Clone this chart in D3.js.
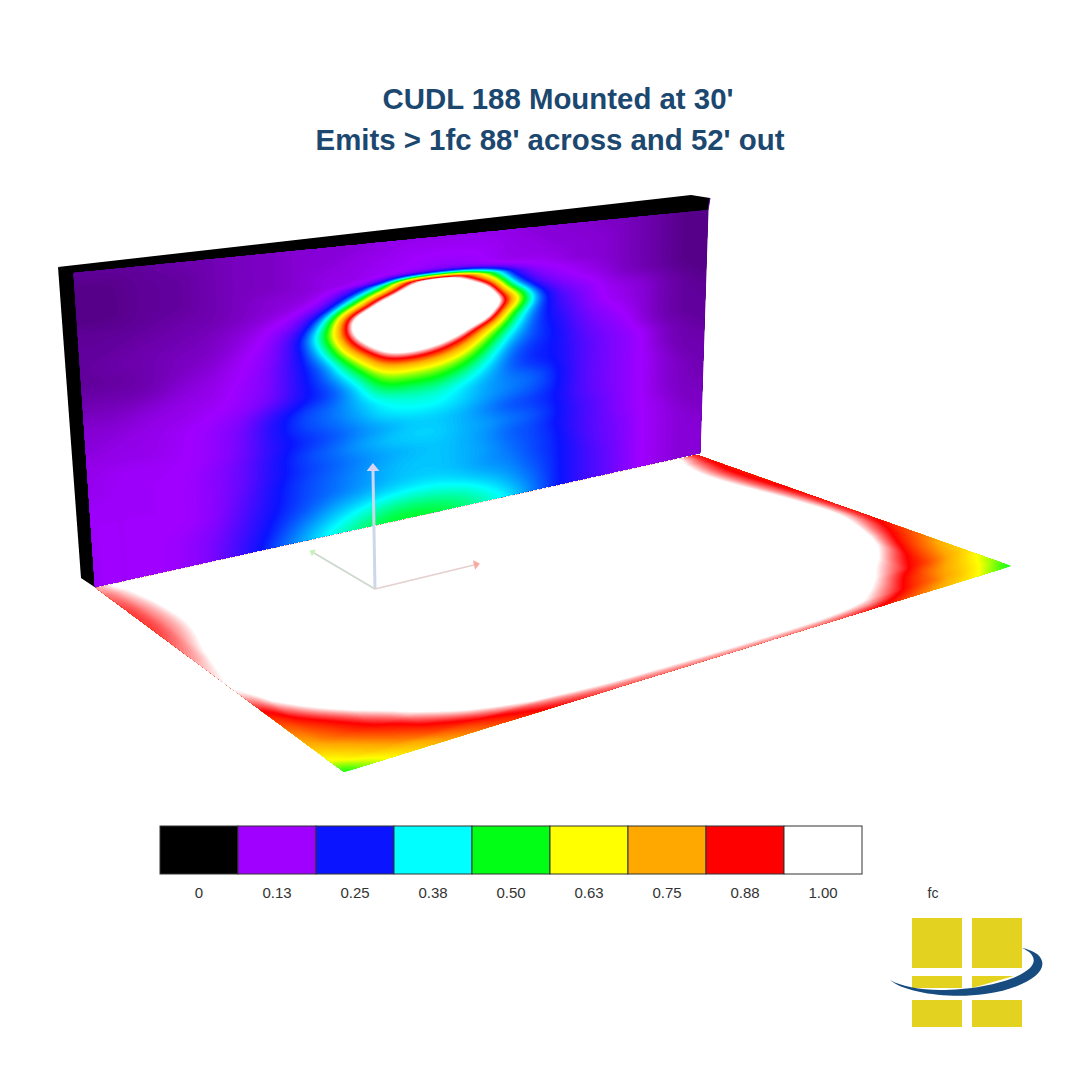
<!DOCTYPE html>
<html>
<head>
<meta charset="utf-8">
<script src="https://cdn.jsdelivr.net/npm/d3@7"></script>
<style>
  html, body { margin: 0; padding: 0; background: #fff; }
  text { font-family: "Liberation Sans", Arial, sans-serif; }
</style>
</head>
<body>
<div id="canvas"></div>
<script>
var titleLines = ["CUDL 188 Mounted at 30'", "Emits > 1fc 88' across and 52' out"];

// legend
var legendValues = [0, 0.13, 0.25, 0.38, 0.50, 0.63, 0.75, 0.88, 1.00];
var legendLabels = ["0", "0.13", "0.25", "0.38", "0.50", "0.63", "0.75", "0.88", "1.00"];
var legendColors = ["#000000", "#a000ff", "#0a14ff", "#00ffff", "#00ff14", "#ffff00", "#ffa800", "#ff0000", "#ffffff"];
var unitLabel = "fc";

// wall readings in hundredths of a fc, left to right, top to bottom
var wallDown = [0, .05, .1, .125, .15, .2, .25, .3, .35, .4, .45, .5, .55, .6, .65, .7, .75, .8, .85, .9, .95, 1];
var wallRows = [
  [ 8, 8, 8, 9, 9,10,10,11,11,11,12,12,12,12,12,12,11,11,11,10,10, 9, 8, 7, 7],
  [ 7, 7, 8, 8, 9,10,10,11,11,12,12,13,13,13,13,12,12,11,11,11,10, 9, 8, 7, 7],
  [ 7, 7, 8, 8, 9,10,10,11,12,12,13,13,14,14,13,12,12,12,11,11,10, 9, 8, 7, 7],
  [ 7, 7, 8, 8, 9,10,10,11,12,12,13,15,18,18,15,13,13,12,11,11,10, 9, 8, 7, 7],
  [ 7, 7, 8, 8, 9,10,11,11,12,14,28,100,120,105,55,22,14,13,12,11,10, 9, 8, 7, 7],
  [ 8, 8, 8, 9, 9,10,11,12,15,45,110,130,135,135,120,40,20,15,13,12,10, 9, 8, 7, 7],
  [ 8, 8, 9, 9,10,11,13,16,40,115,135,140,140,140,135,90,35,20,16,13,12,11, 9, 8, 7],
  [ 8, 9, 9,10,10,12,14,24,52,112,130,135,140,135,118,52,30,22,17,13,12,11, 9, 8, 8],
  [ 8, 8, 9,10,11,13,15,24,42,88,118,125,120,105,68,42,28,24,18,15,13,11, 9, 8, 8],
  [ 9, 9, 9,11,12,13,16,24,32,58,92,98,92,75,52,34,28,25,19,16,14,11, 9, 8, 8],
  [10,10,11,12,12,14,16,24,30,42,64,66,64,56,42,30,26,25,20,17,15,13,10, 9, 8],
  [11,11,12,12,13,14,17,24,27,35,50,50,50,44,36,29,26,25,20,17,15,13,10, 9, 9],
  [11,12,12,13,14,16,23,28,30,34,39,41,41,37,33,31,30,26,20,17,15,13,11, 9, 9],
  [12,12,12,13,14,17,24,28,30,33,37,38,38,36,33,31,29,26,20,17,15,13,11,10, 9],
  [12,13,13,13,14,17,23,26,28,31,33,35,35,34,31,28,27,25,20,17,15,13,11,10, 9],
  [12,13,13,13,15,18,24,28,30,33,35,36,36,34,33,31,29,26,21,18,15,13,11,10,10],
  [13,13,13,13,15,18,24,27,29,31,33,34,35,34,32,29,28,25,21,18,15,13,12,10,10],
  [13,13,13,13,15,19,25,28,30,32,34,35,35,34,33,30,28,26,21,18,16,13,12,11,10],
  [13,13,13,13,15,20,25,28,30,32,34,35,35,34,32,31,28,26,22,18,16,13,12,11,11],
  [13,13,13,14,16,21,26,29,33,35,37,38,38,36,34,32,29,26,22,19,16,13,12,11,11],
  [13,13,13,14,17,22,27,32,36,40,44,45,44,42,38,34,30,26,22,19,16,13,12,11,11],
  [13,13,13,14,17,23,29,34,40,45,49,50,49,46,42,37,31,26,22,19,16,13,12,11,11]
];

// floor readings in hundredths of a fc, the grid is tighter near the edges
var floorAcross = [0, .02, .05, .08, .12, .18, .25, .35, .5, .65, .75, .82, .88, .92, .95, .98, 1];
var floorOut = [0, .05, .15, .3, .45, .55, .62, .7, .76, .82, .88, .92, .96, .98, 1];
var floorRows = [
  [96,100,110,120,120,120,120,120,120,120,120,120,120,115,105,95,88],
  [93,97,105,120,120,120,120,120,120,120,120,120,120,108,100,92,88],
  [90,94,102,115,120,120,120,120,120,120,120,120,120,103,96,88,86],
  [90,93,100,110,120,120,120,120,120,120,120,120,120,110,100,90,87],
  [95,100,112,120,120,120,120,120,120,120,120,120,120,120,108,95,88],
  [98,104,120,120,120,120,120,120,120,120,120,120,120,120,110,96,88],
  [100,108,120,120,120,120,120,120,120,120,120,120,120,118,102,93,88],
  [88,98,112,120,120,120,120,120,120,120,120,120,120,106,94,86,83],
  [84,89,100,112,120,120,120,120,120,120,120,120,110,97,87,82,79],
  [78,83,88,96,110,120,120,120,120,120,120,112,96,88,82,76,72],
  [74,78,84,87,93,115,120,120,120,120,120,100,89,84,78,72,68],
  [68,72,78,83,88,100,120,120,120,125,110,94,82,76,72,65,61],
  [60,65,72,77,82,88,96,110,110,110,100,88,79,73,67,60,56],
  [55,60,67,72,78,85,92,98,102,102,97,84,76,70,64,57,53],
  [50,55,63,68,75,81,88,92,93,93,88,80,72,66,60,53,50]
];

// corners of the two surfaces on screen: tl, tr, br, bl
var wallQuad = [[73.5, 273], [708, 210], [700, 453], [95, 587]];
var floorQuad = [[96, 588], [697, 455], [1011, 566], [344, 772]];

var svg = d3.select('#canvas').append('svg')
  .attr('width', 1080)
  .attr('height', 1080)
  .style('display', 'block');

var color = d3.scaleLinear().domain(legendValues).range(legendColors).clamp(true);

// unit square to quad
var quadProjection = function(q) {
  var dx1 = q[1][0] - q[2][0], dx2 = q[3][0] - q[2][0], sx = q[0][0] - q[1][0] + q[2][0] - q[3][0];
  var dy1 = q[1][1] - q[2][1], dy2 = q[3][1] - q[2][1], sy = q[0][1] - q[1][1] + q[2][1] - q[3][1];
  var den = dx1 * dy2 - dx2 * dy1;
  var g = (sx * dy2 - dx2 * sy) / den;
  var h = (dx1 * sy - sx * dy1) / den;
  var a = q[1][0] - q[0][0] + g * q[1][0], b = q[3][0] - q[0][0] + h * q[3][0];
  var d = q[1][1] - q[0][1] + g * q[1][1], e = q[3][1] - q[0][1] + h * q[3][1];
  return function(u, v) {
    var w = 1 + g * u + h * v;
    return [(a * u + b * v + q[0][0]) / w, (d * u + e * v + q[0][1]) / w];
  };
};

var line = d3.line();

// shade a surface like the renderer did: resample the readings, then stack filled contours
var drawField = function(rows, us, vs, quad, factor, blur, step) {
  var ny = rows.length, nx = rows[0].length;
  var W = (nx - 1) * factor + 1, H = (ny - 1) * factor + 1;
  var data = new Float64Array(W * H);
  for (var y = 0; y < H; y++) {
    var j = Math.min(Math.floor(y / factor), ny - 2), fy = y / factor - j;
    for (var x = 0; x < W; x++) {
      var i = Math.min(Math.floor(x / factor), nx - 2), fx = x / factor - i;
      data[y * W + x] = ((1 - fy) * ((1 - fx) * rows[j][i] + fx * rows[j][i + 1]) +
        fy * ((1 - fx) * rows[j + 1][i] + fx * rows[j + 1][i + 1])) / 100;
    }
  }
  d3.blur2({data: data, width: W, height: H}, blur);

  var uScale = d3.scaleLinear().domain(us.map(function(d, i) { return i * factor; })).range(us).clamp(true);
  var vScale = d3.scaleLinear().domain(vs.map(function(d, i) { return i * factor; })).range(vs).clamp(true);
  var project = quadProjection(quad);
  var path = d3.geoPath(d3.geoTransform({
    point: function(px, py) {
      var p = project(uScale(px - 0.5), vScale(py - 0.5));
      this.stream.point(p[0], p[1]);
    }
  }));

  var low = Math.floor(d3.min(data) * 100) / 100;
  var levels = d3.range(low, 1.001, step);
  var contours = d3.contours().size([W, H]).thresholds(levels)(data);
  svg.append('g').selectAll('path').data(contours).enter().append('path')
    .attr('d', path)
    .attr('fill', function(d) { return color(d.value); });
};

var uniform = function(n) {
  return d3.range(n).map(function(i) { return i / (n - 1); });
};

// floor
drawField(floorRows, floorAcross, floorOut, floorQuad, 6, 2, 0.005);

// wall body
svg.append('path')
  .attr('d', line([[58, 267], [691, 195], [710, 198], [708, 211], [73.5, 274]]) + 'Z')
  .attr('fill', '#000');
svg.append('path')
  .attr('d', line([[58, 267], [74, 273], [96, 588], [81, 578]]) + 'Z')
  .attr('fill', '#000');
svg.append('path')
  .attr('d', line([[710, 198], [708, 210], [700, 453]]))
  .attr('fill', 'none').attr('stroke', '#5a0090').attr('stroke-width', 1);

// wall face
drawField(wallRows, uniform(wallRows[0].length), wallDown, wallQuad, 6, 1.5, 0.0025);

// axis triad
var triad = [
  {to: [373, 471], line: '#cdd6ea', head: '#d9d2f2', w: 3, size: 8},
  {to: [314, 553], line: '#cdd9cd', head: '#c4f2b4', w: 1.8, size: 5},
  {to: [474, 565], line: '#e6cfcf', head: '#f6aaa2', w: 1.8, size: 6}
];
var origin = [375, 589];
svg.append('g').selectAll('line').data(triad).enter().append('line')
  .attr('x1', origin[0]).attr('y1', origin[1])
  .attr('x2', function(d) { return d.to[0]; })
  .attr('y2', function(d) { return d.to[1]; })
  .attr('stroke', function(d) { return d.line; })
  .attr('stroke-width', function(d) { return d.w; });
svg.append('g').selectAll('path').data(triad).enter().append('path')
  .attr('d', function(d) {
    var a = Math.atan2(d.to[1] - origin[1], d.to[0] - origin[0]);
    var s = d.size;
    return line([
      [d.to[0] + Math.cos(a) * s, d.to[1] + Math.sin(a) * s],
      [d.to[0] - Math.sin(a) * s * 0.8, d.to[1] + Math.cos(a) * s * 0.8],
      [d.to[0] + Math.sin(a) * s * 0.8, d.to[1] - Math.cos(a) * s * 0.8]
    ]) + 'Z';
  })
  .attr('fill', function(d) { return d.head; });

// title
svg.append('text').attr('x', 558).attr('y', 109)
  .attr('text-anchor', 'middle').attr('font-size', 29.4).attr('font-weight', 'bold')
  .attr('fill', '#1c4870').text(titleLines[0]);
svg.append('text').attr('x', 550).attr('y', 150)
  .attr('text-anchor', 'middle').attr('font-size', 29.4).attr('font-weight', 'bold')
  .attr('fill', '#1c4870').text(titleLines[1]);

// legend
var legendX = d3.scaleBand().domain(legendLabels).range([160, 862]);
var legend = svg.append('g');
legend.selectAll('rect').data(legendLabels).enter().append('rect')
  .attr('x', function(d) { return legendX(d); })
  .attr('y', 826)
  .attr('width', legendX.bandwidth())
  .attr('height', 48)
  .attr('fill', function(d, i) { return legendColors[i]; })
  .attr('stroke', '#333')
  .attr('stroke-width', 1);
legend.selectAll('text').data(legendLabels).enter().append('text')
  .attr('x', function(d) { return legendX(d) + legendX.bandwidth() / 2; })
  .attr('y', 898)
  .attr('text-anchor', 'middle')
  .attr('font-size', 15)
  .attr('fill', '#333')
  .text(function(d) { return d; });
legend.append('text').attr('x', 933).attr('y', 898)
  .attr('text-anchor', 'middle').attr('font-size', 14).attr('fill', '#333').text(unitLabel);

// logo
var logo = svg.append('g');
var logoBlocks = [
  [912, 918, 50, 50], [972, 918, 50, 50],
  [912, 976, 50, 12], [912, 1000, 50, 27], [972, 1000, 50, 27]
];
logo.selectAll('rect').data(logoBlocks).enter().append('rect')
  .attr('x', function(d) { return d[0]; })
  .attr('y', function(d) { return d[1]; })
  .attr('width', function(d) { return d[2]; })
  .attr('height', function(d) { return d[3]; })
  .attr('fill', '#e3d21f');
logo.append('path')
  .attr('d', line([[972, 976], [1014, 976], [972, 988]]) + 'Z')
  .attr('fill', '#e3d21f');
logo.append('path')
  .attr('d', 'M890,980 C905,993 950,999 985,994 C1020,989 1046,975 1042,961 C1040,954 1032,950 1022,948 C1034,953 1037,961 1030,968 C1015,982 975,990 940,990 C920,990 900,986 890,980 Z')
  .attr('fill', '#174c80');
</script>
</body>
</html>
